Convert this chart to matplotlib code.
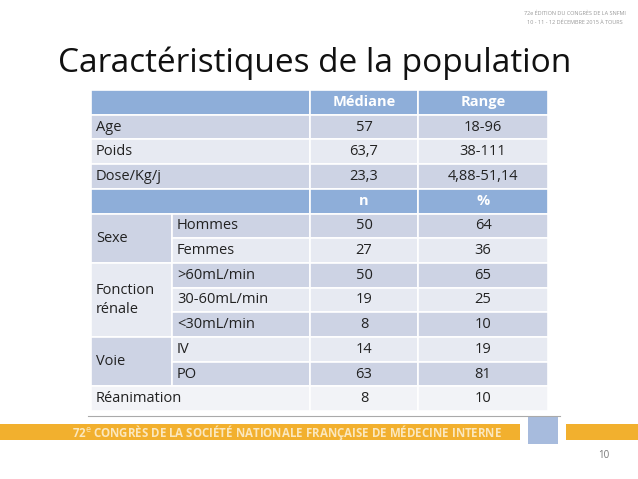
import matplotlib
matplotlib.use("Agg")
import matplotlib.pyplot as plt
from matplotlib.patches import Rectangle

title = "Caractéristiques de la population"
header1 = ["", "Médiane", "Range"]
rows1 = [("Age", "57", "18-96"), ("Poids", "63,7", "38-111"), ("Dose/Kg/j", "23,3", "4,88-51,14")]
header2 = ["", "n", "%"]
groups = ["Sexe", "Fonction\nrénale", "Voie", "Réanimation"]
group_sizes = [2, 3, 2, 1]
sub_labels = ["Hommes", "Femmes", ">60mL/min", "30-60mL/min", "<30mL/min", "IV", "PO", ""]
n_values = ["50", "27", "50", "19", "8", "14", "63", "8"]
pct_values = ["64", "36", "65", "25", "10", "19", "81", "10"]
footer = r"72$^{\mathrm{e}}$ CONGRÈS DE LA SOCIÉTÉ NATIONALE FRANÇAISE DE MÉDECINE INTERNE"
page = "10"

FONT = "Open Sans"
fig = plt.figure(figsize=(6.38, 4.79), dpi=100)
ax = fig.add_axes([0, 0, 1, 1])
ax.set_xlim(0, 638); ax.set_ylim(479, 0); ax.axis("off")

ax.text(58, 72, title, fontsize=24, family=FONT, va="baseline", ha="left", color="#111111")

xs = [91, 172, 310, 418, 548]
y0 = 90; rh = 24.7
HDR = "#8eaed9"; DARK = "#cdd3e4"; LIGHT = "#e7eaf2"
tcol = "#222222"; fs = 10.5

def cell(x1, x2, y, h, color):
    ax.add_patch(Rectangle((x1, y), x2 - x1, h, facecolor=color, edgecolor="white", lw=1.2))

def row_y(i):
    return y0 + i * rh

cell(xs[0], xs[2], row_y(0), rh, HDR)
cell(xs[2], xs[3], row_y(0), rh, HDR); cell(xs[3], xs[4], row_y(0), rh, HDR)
ax.text((xs[2]+xs[3])/2, row_y(0.5), header1[1], ha="center", va="center", color="white", fontsize=fs, family=FONT, weight="bold")
ax.text((xs[3]+xs[4])/2, row_y(0.5), header1[2], ha="center", va="center", color="white", fontsize=fs, family=FONT, weight="bold")
for i, (lab, m, r) in enumerate(rows1):
    c = DARK if i % 2 == 0 else LIGHT
    yy = row_y(1 + i)
    cell(xs[0], xs[2], yy, rh, c); cell(xs[2], xs[3], yy, rh, c); cell(xs[3], xs[4], yy, rh, c)
    ax.text(xs[0]+5, yy+rh/2, lab, va="center", fontsize=fs, family=FONT, color=tcol)
    ax.text((xs[2]+xs[3])/2, yy+rh/2, m, ha="center", va="center", fontsize=fs, family=FONT, color=tcol)
    ax.text((xs[3]+xs[4])/2, yy+rh/2, r, ha="center", va="center", fontsize=fs, family=FONT, color=tcol)
yy = row_y(4)
cell(xs[0], xs[2], yy, rh, HDR); cell(xs[2], xs[3], yy, rh, HDR); cell(xs[3], xs[4], yy, rh, HDR)
ax.text((xs[2]+xs[3])/2, yy+rh/2, header2[1], ha="center", va="center", color="white", fontsize=fs, family=FONT, weight="bold")
ax.text((xs[3]+xs[4])/2, yy+rh/2, header2[2], ha="center", va="center", color="white", fontsize=fs, family=FONT, weight="bold")

k = 0
start = 5
for gi, (g, sz) in enumerate(zip(groups, group_sizes)):
    gy = row_y(start)
    last = gi == len(groups) - 1
    if last:
        cell(xs[0], xs[2], gy, rh, "#f2f3f7")
        ax.text(xs[0]+5, gy+rh/2, g, va="center", fontsize=fs, family=FONT, color=tcol)
    else:
        cell(xs[0], xs[1], gy, rh*sz, DARK if gi % 2 == 0 else LIGHT)
        ax.text(xs[0]+5, gy+rh*sz/2, g, va="center", fontsize=fs, family=FONT, color=tcol, linespacing=1.3)
    for j in range(sz):
        yy = row_y(start + j)
        c = "#f2f3f7" if last else (DARK if (k % 2 == 0) else LIGHT)
        if not last:
            cell(xs[1], xs[2], yy, rh, c)
            ax.text(xs[1]+5, yy+rh/2, sub_labels[k], va="center", fontsize=fs, family=FONT, color=tcol)
        cell(xs[2], xs[3], yy, rh, c); cell(xs[3], xs[4], yy, rh, c)
        ax.text((xs[2]+xs[3])/2, yy+rh/2, n_values[k], ha="center", va="center", fontsize=fs, family=FONT, color=tcol)
        ax.text((xs[3]+xs[4])/2, yy+rh/2, pct_values[k], ha="center", va="center", fontsize=fs, family=FONT, color=tcol)
        k += 1
    start += sz

ax.plot([88, 560], [416, 416], color="#aaaaaa", lw=0.8)
ax.add_patch(Rectangle((0, 424), 520, 16, facecolor="#f2b02e", edgecolor="none"))
ax.add_patch(Rectangle((566, 424), 72, 16, facecolor="#f2b02e", edgecolor="none"))
ax.add_patch(Rectangle((528, 416), 30, 28, facecolor="#6c8fc7", edgecolor="none", alpha=0.6))
ax.text(72, 432, footer, va="center", ha="left", fontsize=8.3, family=FONT, color="#fbe7bd", weight="bold")
ax.text(604, 455, page, va="center", ha="center", fontsize=7, family=FONT, color="#777777")
ax.text(575, 15, "72e ÉDITION DU CONGRÈS DE LA SNFMI", fontsize=4, family=FONT, color="#999999", ha="center")
ax.text(575, 24, "10 - 11 - 12 DÉCEMBRE 2015 À TOURS", fontsize=4, family=FONT, color="#999999", ha="center")

fig.savefig("out.png", dpi=100)
